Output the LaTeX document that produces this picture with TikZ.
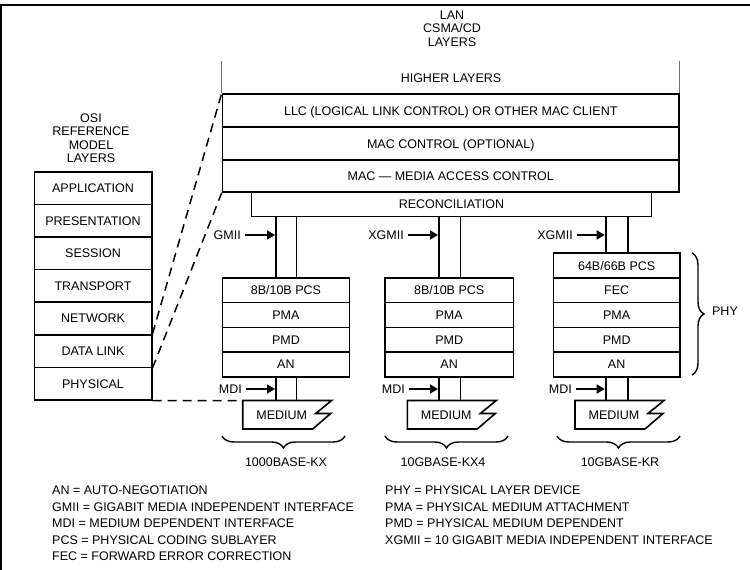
\documentclass[tikz,border=0pt]{standalone}
\usepackage{fontspec}
\setmainfont{Liberation Sans}
\usetikzlibrary{arrows.meta,decorations.pathreplacing,calc}
\begin{document}
\begin{tikzpicture}[x=1pt,y=-1pt,
  font=\fontsize{12.5}{13.5}\selectfont,
  lay/.style={draw, line width=1.6pt, inner sep=0pt, text height=9pt, text depth=0pt},
  osibox/.style={lay, minimum width=117.4pt, minimum height=32.6pt},
  lanbox/.style={lay, minimum width=456.5pt},
  s1box/.style={lay, minimum width=126.8pt, minimum height=24.7pt},
  s2box/.style={lay, minimum width=128.3pt, minimum height=24.7pt},
  s3box/.style={lay, minimum width=126.7pt, minimum height=24.7pt},
  txt/.style={inner sep=0pt, text height=9pt, text depth=0pt},
  mtxt/.style={inner sep=0pt, align=center},
  pipe/.style={line width=1.6pt},
  arr/.style={line width=1.6pt, -{Triangle[length=8pt,width=9pt]}, shorten >=1pt},
  dashln/.style={line width=1.5pt, dash pattern=on 9pt off 6pt},
  brc/.style={line width=1.4pt, decorate, decoration={brace, amplitude=12pt}},
  medline/.style={line width=1.6pt, line join=miter},
  hlline/.style={line width=0.9pt, black!55},
  frameline/.style={line width=2.5pt},
  ]
\useasboundingbox (0,0) rectangle (750,570);
% frame
\draw[frameline] (0,5) -- (750,5);
\draw[line width=1.5pt] (1,4) -- (1,570);

% OSI column
\node[mtxt] (osit) at (91,138.25) {OSI\\REFERENCE\\MODEL\\LAYERS};
\node[osibox] (oapp)   at (93,188.0) {APPLICATION};
\node[osibox] (opres)  at (93,220.6) {PRESENTATION};
\node[osibox] (osess)  at (93,253.2) {SESSION};
\node[osibox] (otrans) at (93,285.8) {TRANSPORT};
\node[osibox] (onet)   at (93,318.4) {NETWORK};
\node[osibox] (odl)    at (93,351.0) {DATA LINK};
\node[osibox] (ophys)  at (93,383.6) {PHYSICAL};

% LAN layers
\node[mtxt] (lant) at (452,28.5) {LAN\\CSMA/CD\\LAYERS};
\node[txt] (hl) at (451,78) {HIGHER LAYERS};
\node[lanbox, minimum height=33pt] (llc) at (450.75,110.5) {LLC (LOGICAL LINK CONTROL) OR OTHER MAC CLIENT};
\node[lanbox, minimum height=33pt] (macc) at (450.75,143.5) {MAC CONTROL (OPTIONAL)};
\node[lanbox, minimum height=32pt] (mac) at (450.75,176) {MAC — MEDIA ACCESS CONTROL};
\node[lay, minimum width=400pt, minimum height=24.5pt] (rec) at (451.5,204.25) {RECONCILIATION};
\draw[hlline] (llc.north west) -- ++(0,-32);
\draw[hlline] (llc.north east) -- ++(0,-32);

% stack 1
\node[s1box] (s1a) at (285.9,290.25) {8B/10B PCS};
\node[s1box] (s1b) at (285.9,314.95) {PMA};
\node[s1box] (s1c) at (285.9,339.65) {PMD};
\node[s1box] (s1d) at (285.9,364.35) {AN};
% stack 2
\node[s2box] (s2a) at (449.15,290.25) {8B/10B PCS};
\node[s2box] (s2b) at (449.15,314.95) {PMA};
\node[s2box] (s2c) at (449.15,339.65) {PMD};
\node[s2box] (s2d) at (449.15,364.35) {AN};
% stack 3
\node[s3box] (s3a) at (616.65,265.55) {64B/66B PCS};
\node[s3box] (s3b) at (616.65,290.25) {FEC};
\node[s3box] (s3c) at (616.65,314.95) {PMA};
\node[s3box] (s3d) at (616.65,339.65) {PMD};
\node[s3box] (s3e) at (616.65,364.35) {AN};

% pipe coordinates
\coordinate (q1l) at (276,0);   \coordinate (q1r) at (296.5,0);
\coordinate (q2l) at (439,0);   \coordinate (q2r) at (460.3,0);
\coordinate (q3l) at (605.7,0); \coordinate (q3r) at (627.7,0);
% media corners
\coordinate (m1) at (242.7,400.5);
\coordinate (m2) at (407.3,400.5);
\coordinate (m3) at (575,400.5);

% upper pipes
\draw[pipe] (q1l |- rec.south) -- (q1l |- s1a.north);
\draw[pipe] (q1r |- rec.south) -- (q1r |- s1a.north);
\draw[pipe] (q2l |- rec.south) -- (q2l |- s2a.north);
\draw[pipe] (q2r |- rec.south) -- (q2r |- s2a.north);
\draw[pipe] (q3l |- rec.south) -- (q3l |- s3a.north);
\draw[pipe] (q3r |- rec.south) -- (q3r |- s3a.north);
% lower pipes
\draw[pipe] (q1l |- s1d.south) -- (q1l |- m1);
\draw[pipe] (q1r |- s1d.south) -- (q1r |- m1);
\draw[pipe] (q2l |- s2d.south) -- (q2l |- m2);
\draw[pipe] (q2r |- s2d.south) -- (q2r |- m2);
\draw[pipe] (q3l |- s3e.south) -- (q3l |- m3);
\draw[pipe] (q3r |- s3e.south) -- (q3r |- m3);

% media
\foreach \m in {m1,m2,m3}{
  \draw[medline] (\m) -- ++(89,0) -- ++(-16,13) -- ++(15,0) -- ++(-18,15.5) -- ++(-70,0) -- cycle;
}
\node[txt] (med1) at ($(m1)+(39,14.3)$) {MEDIUM};
\node[txt] (med2) at ($(m2)+(39,14.3)$) {MEDIUM};
\node[txt] (med3) at ($(m3)+(39,14.3)$) {MEDIUM};

% interface arrows
\node[txt, anchor=east] (gmii)  at (241,235) {GMII};
\node[txt, anchor=east] (xgmii2) at (404,235) {XGMII};
\node[txt, anchor=east] (xgmii3) at (573,235) {XGMII};
\draw[arr] ([xshift=4pt]gmii.east) -- (gmii.east -| q1l);
\draw[arr] ([xshift=4pt]xgmii2.east) -- (xgmii2.east -| q2l);
\draw[arr] ([xshift=4pt]xgmii3.east) -- (xgmii3.east -| q3l);
\node[txt, anchor=east] (mdi1) at (242,389) {MDI};
\node[txt, anchor=east] (mdi2) at (405,389) {MDI};
\node[txt, anchor=east] (mdi3) at (572,389) {MDI};
\draw[arr] ([xshift=4pt]mdi1.east) -- (mdi1.east -| q1l);
\draw[arr] ([xshift=4pt]mdi2.east) -- (mdi2.east -| q2l);
\draw[arr] ([xshift=4pt]mdi3.east) -- (mdi3.east -| q3l);

% dashed mapping
\draw[dashln] (odl.north east) -- (llc.north west);
\draw[dashln] (odl.south east) -- (mac.south west);
\draw[dashln] (ophys.south east) -- (m1);

% braces
\draw[brc] (692,253) -- (692,375);
\node[txt] (phylbl) at (725,311) {PHY};
\draw[brc] (345,436) -- (222,436);
\draw[brc] (508,436) -- (385,436);
\draw[brc] (680,436) -- (557,436);
\node[txt] (lb1) at (286,462) {1000BASE-KX};
\node[txt] (lb2) at (443,462) {10GBASE-KX4};
\node[txt] (lb3) at (620,462) {10GBASE-KR};

% legend
\node[txt, anchor=west] (g1) at (52,490) {AN = AUTO-NEGOTIATION};
\node[txt, anchor=west] (g2) at (52,506.6) {GMII = GIGABIT MEDIA INDEPENDENT INTERFACE};
\node[txt, anchor=west] (g3) at (52,523.2) {MDI = MEDIUM DEPENDENT INTERFACE};
\node[txt, anchor=west] (g4) at (52,539.8) {PCS = PHYSICAL CODING SUBLAYER};
\node[txt, anchor=west] (g5) at (52,556.4) {FEC = FORWARD ERROR CORRECTION};
\node[txt, anchor=west] (h1) at (385,490) {PHY = PHYSICAL LAYER DEVICE};
\node[txt, anchor=west] (h2) at (385,506.6) {PMA = PHYSICAL MEDIUM ATTACHMENT};
\node[txt, anchor=west] (h3) at (385,523.2) {PMD = PHYSICAL MEDIUM DEPENDENT};
\node[txt, anchor=west] (h4) at (385,539.8) {XGMII = 10 GIGABIT MEDIA INDEPENDENT INTERFACE};
\end{tikzpicture}
\end{document}
